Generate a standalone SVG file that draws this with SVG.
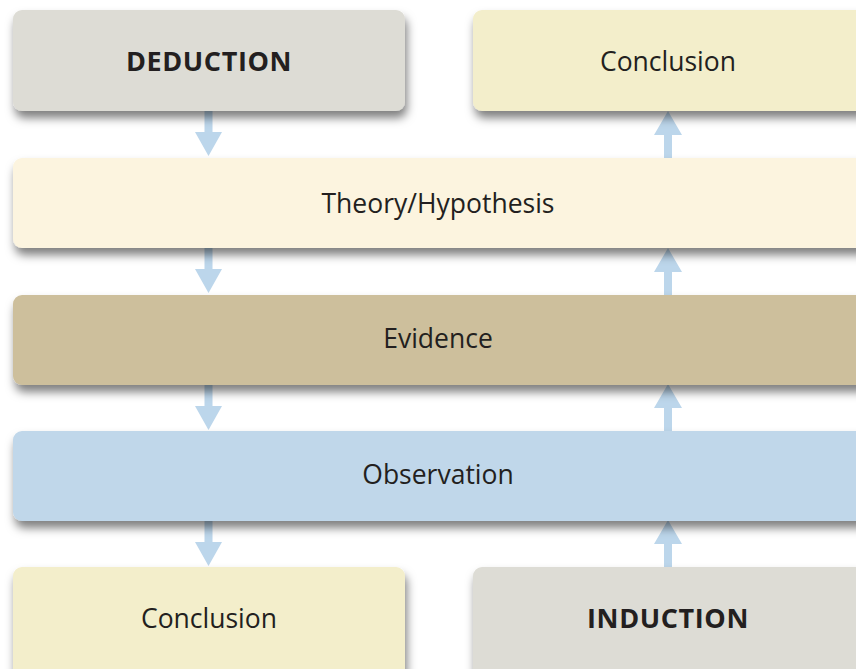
<svg xmlns="http://www.w3.org/2000/svg" width="856" height="669" viewBox="0 0 856 669">
  <defs>
    <filter id="shadow" x="-10%" y="-20%" width="120%" height="170%">
      <feDropShadow dx="2" dy="7" stdDeviation="5" flood-color="#000" flood-opacity="0.5"/>
    </filter>
    <style>
      .box { filter: url(#shadow); }
      .grey { fill: #dddcd5; }
      .cream { fill: #f3eecb; }
      .theory { fill: #fcf4df; }
      .evidence { fill: #cdbf9c; }
      .observation { fill: #c0d7ea; }
      .label { font-family: "Open Sans", "Noto Sans", sans-serif; font-size: 26.5px; fill: #231f20; text-anchor: middle; }
      .bold { font-weight: 700; font-size: 27px; letter-spacing: 0.6px; }
      .arrow { fill: #bcd6eb; }
    </style>
  </defs>
  <rect width="856" height="669" fill="#ffffff"/>

  <!-- connectors -->
  <g id="connectors">
    <!-- deduction path (downwards) -->
    <path class="arrow" d="M204.5,111 H212.5 V132 H222 L208.5,156 L195,132 H204.5 Z"/>
    <path class="arrow" d="M204.5,248 H212.5 V269 H222 L208.5,293 L195,269 H204.5 Z"/>
    <path class="arrow" d="M204.5,385 H212.5 V406 H222 L208.5,430 L195,406 H204.5 Z"/>
    <path class="arrow" d="M204.5,521 H212.5 V542 H222 L208.5,566 L195,542 H204.5 Z"/>
    <!-- induction path (upwards) -->
    <path class="arrow" d="M664,158 H672 V135 H682 L668,111 L654,135 H664 Z"/>
    <path class="arrow" d="M664,295 H672 V272 H682 L668,248 L654,272 H664 Z"/>
    <path class="arrow" d="M664,431 H672 V408 H682 L668,384 L654,408 H664 Z"/>
    <path class="arrow" d="M664,567 H672 V544 H682 L668,520 L654,544 H664 Z"/>
  </g>

  <g id="deduction">
    <rect class="box grey" x="13" y="10" width="392" height="101" rx="9"/>
    <text class="label bold" x="209" y="71">DEDUCTION</text>
  </g>

  <g id="conclusion-top">
    <rect class="box cream" x="473" y="10" width="400" height="101" rx="9"/>
    <text class="label" x="668" y="71">Conclusion</text>
  </g>

  <g id="theory">
    <rect class="box theory" x="13" y="158" width="860" height="90" rx="9"/>
    <text class="label" x="438" y="213">Theory/Hypothesis</text>
  </g>

  <g id="evidence">
    <rect class="box evidence" x="13" y="295" width="860" height="90" rx="9"/>
    <text class="label" x="438" y="348">Evidence</text>
  </g>

  <g id="observation">
    <rect class="box observation" x="13" y="431" width="860" height="90" rx="9"/>
    <text class="label" x="438" y="484">Observation</text>
  </g>

  <g id="conclusion-bottom">
    <rect class="box cream" x="13" y="567" width="392" height="120" rx="9"/>
    <text class="label" x="209" y="628">Conclusion</text>
  </g>

  <g id="induction">
    <rect class="box grey" x="473" y="567" width="400" height="120" rx="9"/>
    <text class="label bold" x="668" y="628">INDUCTION</text>
  </g>
</svg>
